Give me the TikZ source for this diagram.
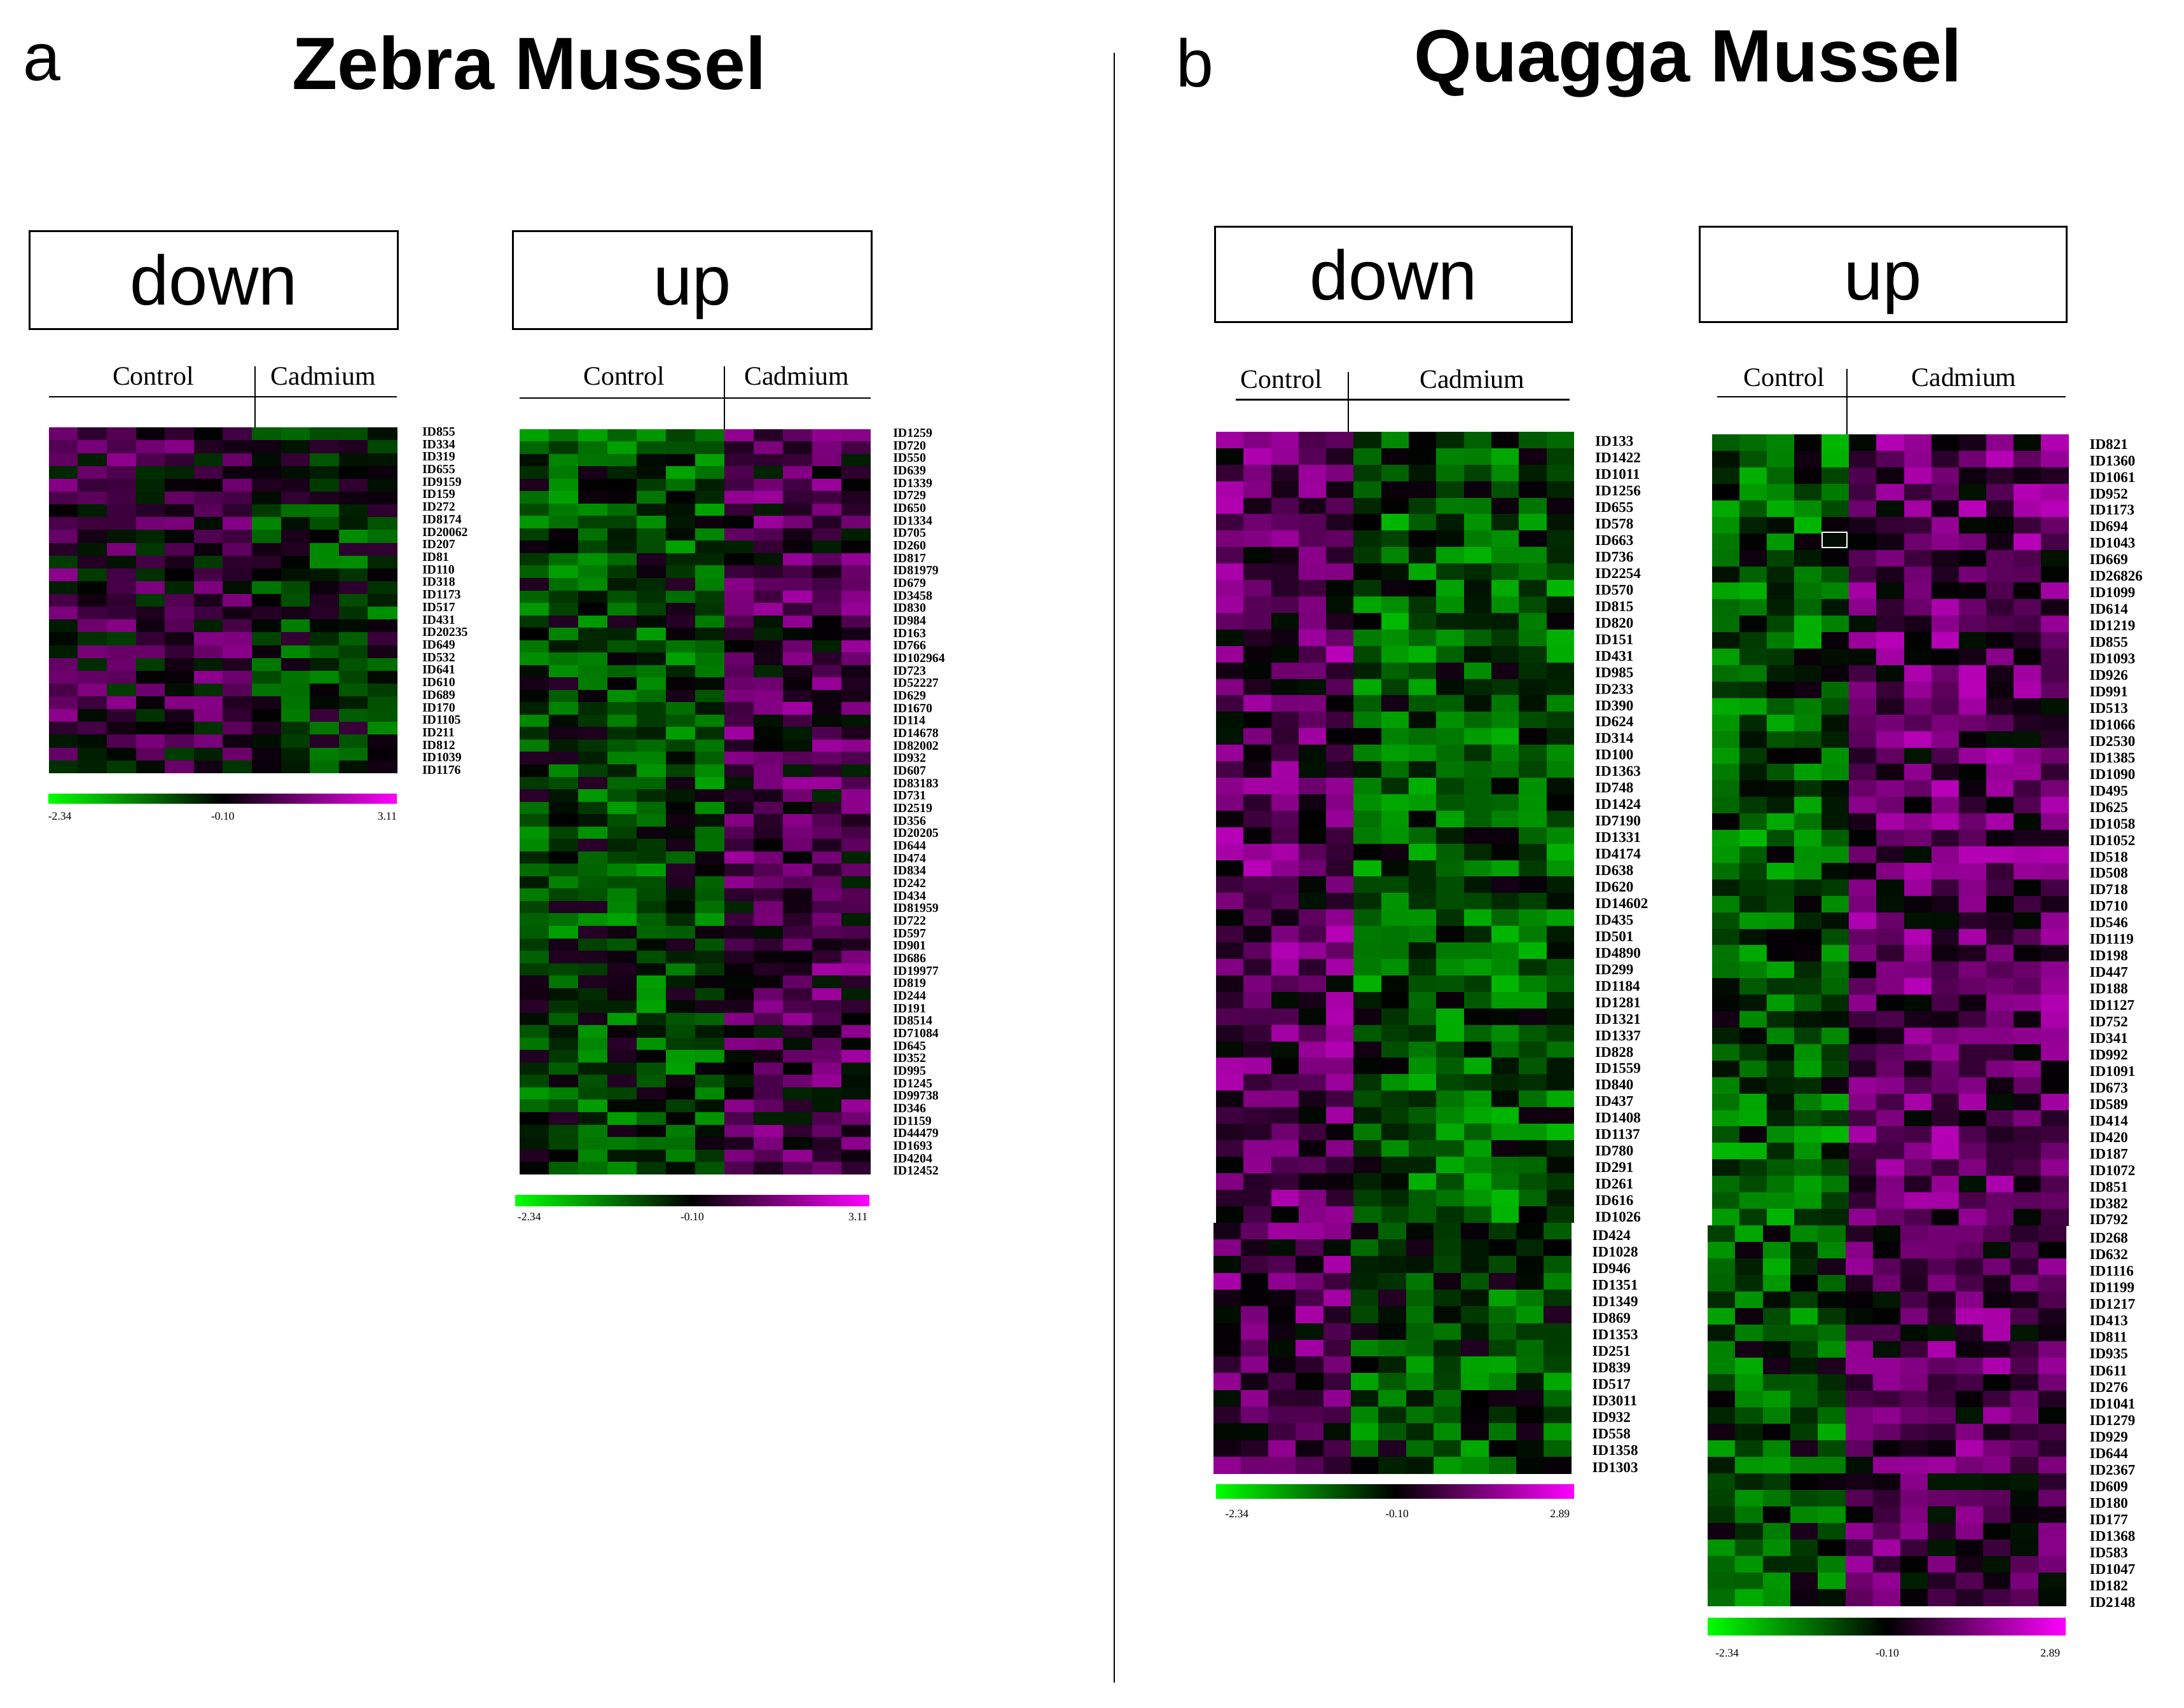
\documentclass[tikz,border=0pt]{standalone}
\usepackage{fontspec}
\setmainfont{Liberation Serif}
\newfontfamily\arial{Liberation Sans}
\definecolor{mag}{RGB}{255,0,255}
\definecolor{grn}{RGB}{0,255,0}
\begin{document}
\newcommand\heat[9]{% x0,ytop,ncols,nctrl,nrows,cw,rh,bias,seed
 \pgfmathsetseed{#9}%
 \foreach \r in {1,...,#5}{\foreach \c in {1,...,#3}{%
   \pgfmathsetmacro\v{rand*0.5 + (\c<=#4 ? #8 : -#8)}%
   \pgfmathsetmacro\v{max(-1,min(1,\v))}%
   \pgfmathsetmacro\p{abs(\v)*80}%
   \pgfmathtruncatemacro\s{\v>0}%
   \ifnum\s=1 \def\cc{mag}\else\def\cc{grn}\fi
   \fill[\cc!\p!black] ({#1+(\c-1)*#6},{#2+(\r-1)*#7}) rectangle ++(#6+0.3,#7+0.3);
 }}}
\begin{tikzpicture}[x=0.995pt,y=-0.995pt,
  title/.style={font=\arial\bfseries\fontsize{53}{56}\selectfont},
  letter/.style={font=\arial\fontsize{48}{52}\selectfont},
  dirbox/.style={draw,line width=1.5pt,font=\arial\fontsize{50}{54}\selectfont,inner sep=0pt,text height=36pt,text depth=0pt},
  grp/.style={font=\fontsize{19}{21}\selectfont},
  idz/.style={font=\bfseries\fontsize{9}{9}\selectfont,anchor=west,inner sep=0pt},
  idq/.style={font=\bfseries\fontsize{10.5}{11}\selectfont,anchor=west,inner sep=0pt},
  cb/.style={font=\fontsize{8}{9}\selectfont,inner sep=0pt}]
\useasboundingbox (0,0) rectangle (1568,1226);
\fill[white] (0,0) rectangle (1568,1226);
% titles
\node[letter] (la) at (30,45) {a};
\node[title] (tz) at (380,45) {Zebra Mussel};
\node[letter] (lb) at (858,45) {b};
\node[title] (tq) at (1212,45) {Quagga Mussel};
\draw[line width=1.3pt] (800,38) -- (800,1208);
% boxes
\node[dirbox,minimum width=263pt,minimum height=70pt] (b1) at (153.5,201) {down};
\node[dirbox,minimum width=256pt,minimum height=70pt] (b2) at (497,201) {up};
\node[dirbox,minimum width=255pt,minimum height=68pt] (b3) at (1000.5,197) {down};
\node[dirbox,minimum width=262pt,minimum height=68pt] (b4) at (1352,197) {up};
% zebra down
\heat{35}{307}{12}{7}{27}{20.83}{9.19}{0.2}{11}
\draw[line width=1pt] (35,285) -- (285,285) (183,263) -- (183,307);
\node[grp] (c1) at (110,270) {Control};
\node[grp] (d1) at (232,270) {Cadmium};
\foreach[count=\i] \t in {ID855,ID334,ID319,ID655,ID9159,ID159,ID272,ID8174,ID20062,ID207,ID81,ID110,ID318,ID1173,ID517,ID431,ID20235,ID649,ID532,ID641,ID610,ID689,ID170,ID1105,ID211,ID812,ID1039,ID1176}
  \node[idz] (z\i) at (303,{310+(\i-1)*9.0}) {\t};
\shade[left color=grn,right color=mag,middle color=black] (35,570) rectangle (285,577);
\node[cb] (zb1) at (43,586) {-2.34}; \node[cb] (zb2) at (160,586) {-0.10}; \node[cb] (zb3) at (278,586) {3.11};
% zebra up
\heat{373}{308}{12}{7}{60}{21}{8.92}{-0.3}{23}
\draw[line width=1pt] (373,286) -- (625,286) (520,263) -- (520,308);
\node[grp] (c2) at (448,270) {Control};
\node[grp] (d2) at (572,270) {Cadmium};
\foreach[count=\i] \t in {ID1259,ID720,ID550,ID639,ID1339,ID729,ID650,ID1334,ID705,ID260,ID817,ID81979,ID679,ID3458,ID830,ID984,ID163,ID766,ID102964,ID723,ID52227,ID629,ID1670,ID114,ID14678,ID82002,ID932,ID607,ID83183,ID731,ID2519,ID356,ID20205,ID644,ID474,ID834,ID242,ID434,ID81959,ID722,ID597,ID901,ID686,ID19977,ID819,ID244,ID191,ID8514,ID71084,ID645,ID352,ID995,ID1245,ID99738,ID346,ID1159,ID44479,ID1693,ID4204,ID12452}
  \node[idz] (u\i) at (641,{311+(\i-1)*8.98}) {\t};
\shade[left color=grn,right color=mag,middle color=black] (370,858) rectangle (624,866);
\node[cb] (ub1) at (380,874) {-2.34}; \node[cb] (ub2) at (497,874) {-0.10}; \node[cb] (ub3) at (616,874) {3.11};
% quagga down
\heat{873}{310}{13}{5}{48}{19.77}{11.83}{0.4}{37}
\heat{871}{878}{13}{5}{15}{19.77}{12}{0.33}{41}
\draw[line width=1pt] (887,287) -- (1127,287) (968,267) -- (968,310);
\node[grp] (c3) at (920,272) {Control};
\node[grp] (d3) at (1057,272) {Cadmium};
\foreach[count=\i] \t in {ID133,ID1422,ID1011,ID1256,ID655,ID578,ID663,ID736,ID2254,ID570,ID815,ID820,ID151,ID431,ID985,ID233,ID390,ID624,ID314,ID100,ID1363,ID748,ID1424,ID7190,ID1331,ID4174,ID638,ID620,ID14602,ID435,ID501,ID4890,ID299,ID1184,ID1281,ID1321,ID1337,ID828,ID1559,ID840,ID437,ID1408,ID1137,ID780,ID291,ID261,ID616,ID1026}
  \node[idq] (qd\i) at (1145,{317+(\i-1)*11.85}) {\t};
\foreach[count=\i] \t in {ID424,ID1028,ID946,ID1351,ID1349,ID869,ID1353,ID251,ID839,ID517,ID3011,ID932,ID558,ID1358,ID1303}
  \node[idq] (qe\i) at (1143,{887+(\i-1)*11.9}) {\t};
\shade[left color=grn,right color=mag,middle color=black] (873,1066) rectangle (1130,1076);
\node[cb] (db1) at (888,1087) {-2.34}; \node[cb] (db2) at (1003,1087) {-0.10}; \node[cb] (db3) at (1120,1087) {2.89};
% quagga up
\heat{1229}{312}{13}{5}{48}{19.7}{11.83}{-0.4}{53}
\heat{1226}{880}{13}{5}{23}{19.77}{11.87}{-0.35}{59}
\draw[white,line width=1pt] (1308,382) rectangle (1326,393);
\draw[line width=1pt] (1233,285) -- (1483,285) (1326,265) -- (1326,312);
\node[grp] (c4) at (1281,271) {Control};
\node[grp] (d4) at (1410,271) {Cadmium};
\foreach[count=\i] \t in {ID821,ID1360,ID1061,ID952,ID1173,ID694,ID1043,ID669,ID26826,ID1099,ID614,ID1219,ID855,ID1093,ID926,ID991,ID513,ID1066,ID2530,ID1385,ID1090,ID495,ID625,ID1058,ID1052,ID518,ID508,ID718,ID710,ID546,ID1119,ID198,ID447,ID188,ID1127,ID752,ID341,ID992,ID1091,ID673,ID589,ID414,ID420,ID187,ID1072,ID851,ID382,ID792}
  \node[idq] (qu\i) at (1500,{319+(\i-1)*11.85}) {\t};
\foreach[count=\i] \t in {ID268,ID632,ID1116,ID1199,ID1217,ID413,ID811,ID935,ID611,ID276,ID1041,ID1279,ID929,ID644,ID2367,ID609,ID180,ID177,ID1368,ID583,ID1047,ID182,ID2148}
  \node[idq] (qv\i) at (1500,{889+(\i-1)*11.9}) {\t};
\shade[left color=grn,right color=mag,middle color=black] (1226,1162) rectangle (1483,1174);
\node[cb] (vb1) at (1240,1187) {-2.34}; \node[cb] (vb2) at (1355,1187) {-0.10}; \node[cb] (vb3) at (1472,1187) {2.89};
\end{tikzpicture}
\end{document}
